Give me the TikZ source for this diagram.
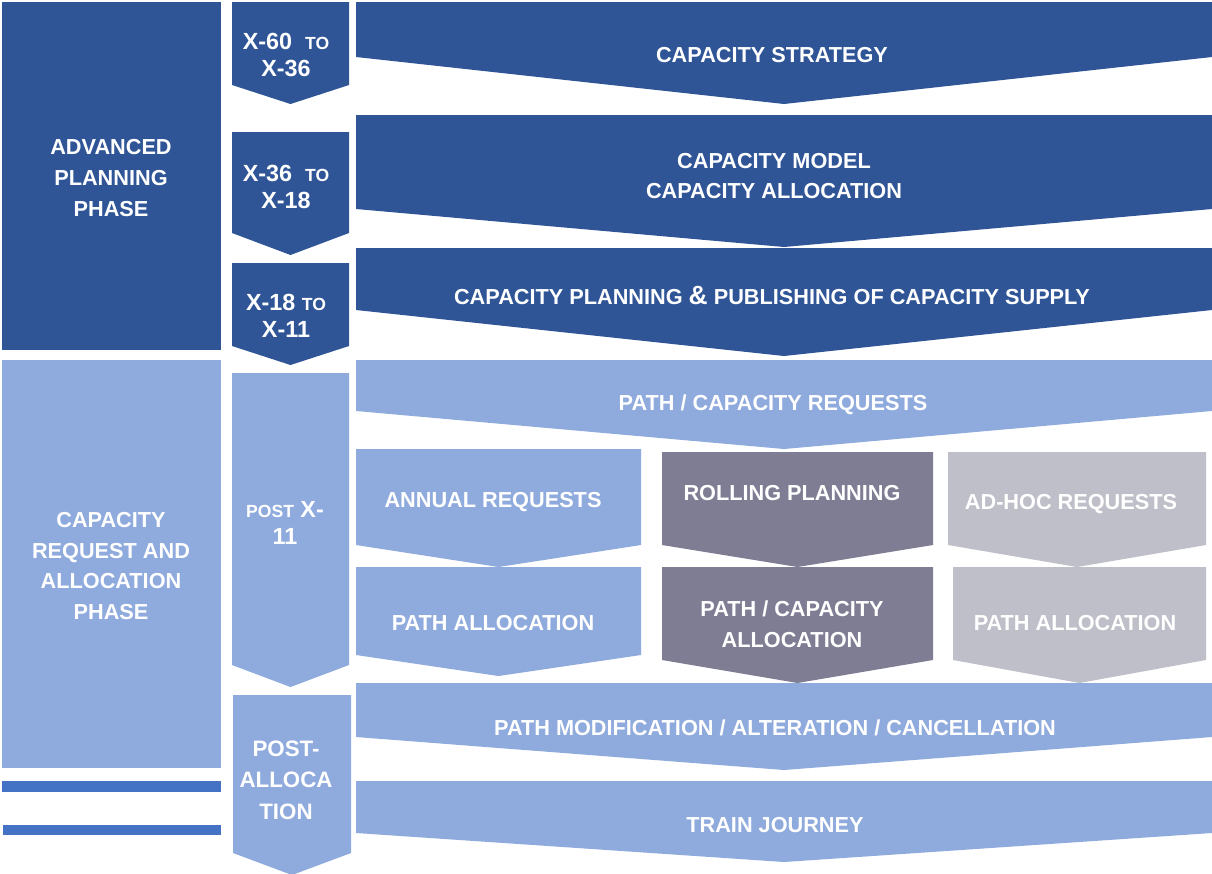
\documentclass[tikz,border=0pt]{standalone}
\usepackage{fontspec}
\setmainfont{Liberation Sans}
\usepackage{tikz}
\usetikzlibrary{calc}

\definecolor{darkblue}{HTML}{2F5597}
\definecolor{lightblue}{HTML}{8FAADC}
\definecolor{barblue}{HTML}{4472C4}
\definecolor{rollgray}{HTML}{7F7D93}
\definecolor{adhocgray}{HTML}{BFBFC9}

\newcommand{\smallcap}[1]{{\fontsize{10}{10}\selectfont #1}}

\tikzset{
  lbl/.style={text=white,font=\bfseries\fontsize{12.35}{17.6}\selectfont,align=center,inner sep=0pt},
  tlbl/.style={text=white,font=\bfseries\fontsize{13.3}{15.3}\selectfont,align=center,inner sep=0pt}
}

\begin{document}
\begin{tikzpicture}[x=0.02cm,y=-0.02cm]
			\useasboundingbox (0,0) rectangle (1212,873);
			
			%phases
			\fill[darkblue] (2,2) rectangle (221,350);
			\fill[lightblue] (2,360) rectangle (221,768);
			\fill[barblue] (2,781) rectangle (221,792);
			\fill[barblue] (3,825) rectangle (221,835);
			
			%time chevrons
			\foreach \xa/\xb/\ya/\yb/\yc/\col in {232/349/2/85/104/darkblue, 232/349/132/233/255/darkblue, 232/349/263/346/365/darkblue, 232/349/373/665/687/lightblue, 233/351/695/853/875/lightblue}{
				\fill[\col] (\xa,\ya) -- (\xb,\ya) -- (\xb,\yb) -- ({(\xa+\xb)/2},\yc) -- (\xa,\yb) -- cycle;
			}
			
			%process chevrons
			\foreach \xa/\xb/\ya/\yb/\yc/\col in {356/1212/2/57/104/darkblue, 356/1212/115/209/247/darkblue, 356/1212/248/310/356/darkblue, 356/1212/360/411/449/lightblue, 356/641/449/545/567/lightblue, 662/933/452/545/567/rollgray, 948/1206/452/545/567/adhocgray, 356/1212/683/737/770/lightblue, 356/1212/781/833/862/lightblue, 356/641/567/655/676/lightblue, 662/933/567/660/683/rollgray, 953/1206/567/660/683/adhocgray}{
				\fill[\col] (\xa,\ya) -- (\xb,\ya) -- (\xb,\yb) -- ({(\xa+\xb)/2},\yc) -- (\xa,\yb) -- cycle;
			}
			
			%labels left
			\node[lbl] (adv) at (111,178) {ADVANCED\\PLANNING\\PHASE};
			\node[lbl] (alloc) at (111,566) {CAPACITY\\REQUEST AND\\ALLOCATION\\PHASE};
			
			%labels time
			\node[tlbl] (t1) at (286,55) {X-60\ \ \smallcap{TO}\\X-36};
			\node[tlbl] (t2) at (286,187) {X-36\ \ \smallcap{TO}\\X-18};
			\node[tlbl] (t3) at (286,316) {X-18 \smallcap{TO}\\X-11};
			\node[tlbl] (t4) at (285,523) {\smallcap{POST} X-\\11};
			\node[tlbl,font=\bfseries\fontsize{12.7}{18}\selectfont] (t5) at (286,780) {POST-\\ALLOCA\\TION};
			
			%labels process
			\node[lbl] (strat) at (772,55) {CAPACITY STRATEGY};
			\node[lbl] (model) at (774,176) {CAPACITY MODEL\\CAPACITY ALLOCATION};
			\node[lbl] (plan) at (772,296) {CAPACITY PLANNING {\fontsize{15}{15}\selectfont\&} PUBLISHING OF CAPACITY SUPPLY};
			\node[lbl] (pathreq) at (773,405) {PATH / CAPACITY REQUESTS};
			\node[lbl] (annual) at (493,502) {ANNUAL REQUESTS};
			\node[lbl] (rolling) at (792,493) {ROLLING PLANNING};
			\node[lbl] (adhoc) at (1071,504) {AD-HOC REQUESTS};
			\node[lbl] (pathA) at (493,623) {PATH ALLOCATION};
			\node[lbl] (pathR) at (792,624) {PATH / CAPACITY\\ALLOCATION};
			\node[lbl] (pathH) at (1075,623) {PATH ALLOCATION};
			\node[lbl] (modif) at (775,728) {PATH MODIFICATION / ALTERATION / CANCELLATION};
			\node[lbl] (train) at (775,825) {TRAIN JOURNEY};
			
\end{tikzpicture}
\end{document}
